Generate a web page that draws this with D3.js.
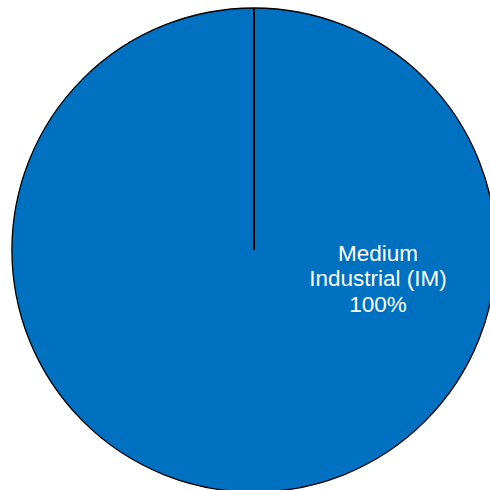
<!DOCTYPE html>
<html><head><meta charset="utf-8">
<script src="https://cdn.jsdelivr.net/npm/d3@7"></script>
<style>html,body{margin:0;padding:0;background:#fff;}svg{display:block;}</style>
</head><body>
<svg id="chart" width="490" height="490"></svg>
<script>
const categories = ["Medium Industrial (IM)"];
const labelLines = [["Medium", "Industrial (IM)", "100%"]];
const values = [100];
const colors = ["#0070C0"];

const svg = d3.select("#chart");
const cx = 254, cy = 250, r = 242;
const g = svg.append("g").attr("transform", `translate(${cx},${cy})`);

const pie = d3.pie().sort(null).value(d => d)(values);
const arc = d3.arc().innerRadius(0).outerRadius(r);

g.selectAll("path.slice").data(pie).enter().append("path")
  .attr("class", "slice")
  .attr("d", arc)
  .attr("fill", (d, i) => colors[i])
  .attr("stroke", "#000")
  .attr("stroke-width", 1.3);

// slice boundary radii
g.selectAll("line.edge").data(pie).enter().append("line")
  .attr("class", "edge")
  .attr("x1", 0).attr("y1", 0)
  .attr("x2", d => r * Math.sin(d.startAngle))
  .attr("y2", d => -r * Math.cos(d.startAngle))
  .attr("stroke", "#000").attr("stroke-width", 2);

// label
const labelAngle = 1.79;
const labelArc = d3.arc().innerRadius(127).outerRadius(127);
const c = labelArc.centroid({startAngle: labelAngle, endAngle: labelAngle});
const t = g.append("text")
  .attr("x", c[0]).attr("y", c[1])
  .attr("text-anchor", "middle")
  .attr("fill", "#fff")
  .style("font-family", "Liberation Sans, Arial, sans-serif")
  .style("font-size", "22.5px");
labelLines[0].forEach((s, i) => {
  t.append("tspan").attr("x", c[0]).attr("dy", i === 0 ? "-0.76em" : "1.15em").text(s);
});
</script>
</body></html>
